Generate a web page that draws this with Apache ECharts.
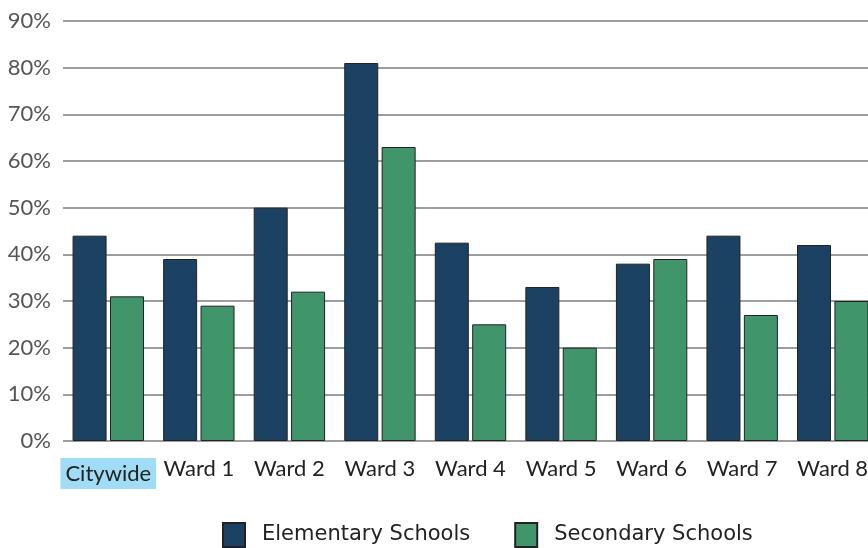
<!DOCTYPE html>
<html><head><meta charset="utf-8">
<script src="https://cdn.jsdelivr.net/npm/echarts@6/dist/echarts.min.js"></script>
<style>html,body{margin:0;padding:0;background:#fff}#c{width:868px;height:548px}</style>
</head><body><div id="c"></div>
<script>
const categories = ['Citywide','Ward 1','Ward 2','Ward 3','Ward 4','Ward 5','Ward 6','Ward 7','Ward 8'];
const elementary = [44, 39, 50, 81, 42.5, 33, 38, 44, 42];
const secondary = [31, 29, 32, 63, 25, 20, 39, 27, 30];
const yTicks = [0,10,20,30,40,50,60,70,80,90];

const chart = echarts.init(document.getElementById('c'));
const font = 'Lato, "DejaVu Sans", sans-serif';
chart.setOption({
  animation: false,
  grid: {left: 63, width: 815, top: 21, bottom: 107, containLabel: false, outerBoundsMode: 'none'},
  legend: {
    bottom: 0, left: 222, padding: 0, itemWidth: 22, itemHeight: 24, itemGap: 44, icon: 'rect',
    textStyle: {fontFamily: '"DejaVu Sans", sans-serif', fontSize: 21, color: '#222', padding: [0,0,0,12]},
    data: ['Elementary Schools','Secondary Schools']
  },
  xAxis: {
    type: 'category', data: categories,
    axisLine: {show: false}, axisTick: {show: false},
    axisLabel: {
      margin: 17, fontFamily: font, fontSize: 22, color: '#222', interval: 0,
      formatter: (v, i) => i === 0 ? '{hl|' + v + '}' : v,
      rich: {hl: {backgroundColor: '#a0dcf5', padding: [5,5,4,5], fontFamily: font, fontSize: 22, color: '#222'}}
    }
  },
  yAxis: {
    type: 'value', min: 0, max: 90, interval: 10,
    axisLabel: {formatter: v => yTicks.includes(v) ? v + '%' : '', fontFamily: font, fontSize: 22, color: '#555', margin: 12},
    splitLine: {lineStyle: {color: '#9a9ea2', width: 2}},
    axisLine: {show: false}, axisTick: {show: false}
  },
  series: [
    {name: 'Elementary Schools', type: 'bar', data: elementary, barWidth: 34, barGap: '10%',
     itemStyle: {color: '#1b4263', borderColor: '#222', borderWidth: 1}},
    {name: 'Secondary Schools', type: 'bar', data: secondary, barWidth: 34,
     itemStyle: {color: '#41956a', borderColor: '#222', borderWidth: 1}}
  ]
});
</script></body></html>
